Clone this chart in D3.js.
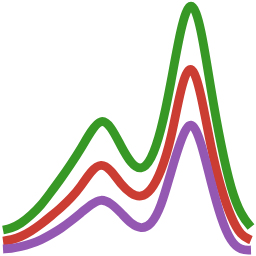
<!DOCTYPE html>
<html>
<head>
<meta charset="utf-8">
<script src="https://cdn.jsdelivr.net/npm/d3@7"></script>
<style>
  html, body { margin: 0; padding: 0; background: #fff; }
  svg { display: block; }
</style>
</head>
<body>
<svg id="chart" width="256" height="256"></svg>
<script>
const xValues = [3, 11, 21, 31, 41, 51, 61, 71, 81, 91, 101, 111, 121, 131, 141, 151, 161, 171, 181, 191, 201, 211, 221, 231, 241, 251];
const greenValues = [26, 27.5, 32.5, 40.7, 50.5, 64, 77.5, 92, 107.5, 125, 137.8, 129.8, 109.7, 92.3, 85.3, 95, 124, 173, 230.5, 259.5, 230.5, 165.2, 110.2, 66.2, 41, 29];
const redValues = [15, 16, 19.2, 24.8, 31.8, 40, 48.3, 57.7, 69.7, 85.2, 93.2, 86.2, 71.3, 62, 58.3, 65, 83.8, 115.3, 170.3, 196.3, 163.8, 107.2, 67.2, 38.2, 20, 16];
const purpleValues = [7, 7.5, 9.3, 12.2, 16, 21.5, 27.5, 35, 43.2, 51.5, 57.5, 52.8, 43.2, 32.1, 27, 30.7, 48.5, 84.3, 117.3, 138.2, 115, 73.5, 37, 13.7, 5.7, 6];

const seriesList = [
  { name: "green", values: greenValues, color: "#389826" },
  { name: "red", values: redValues, color: "#cb3c33" },
  { name: "purple", values: purpleValues, color: "#9558b2" }
];

const svg = d3.select("#chart");
const x = d3.scaleLinear().domain([0, 256]).range([0, 256]);
const y = d3.scaleLinear().domain([0, 256]).range([256, 0]);

const line = d3.line()
  .x((d, i) => x(xValues[i]))
  .y(d => y(d))
  .curve(d3.curveBasis);

svg.selectAll("path.series")
  .data(seriesList)
  .enter()
  .append("path")
  .attr("class", "series")
  .attr("d", d => line(d.values))
  .attr("fill", "none")
  .attr("stroke", d => d.color)
  .attr("stroke-width", 8.8);
</script>
</body>
</html>
